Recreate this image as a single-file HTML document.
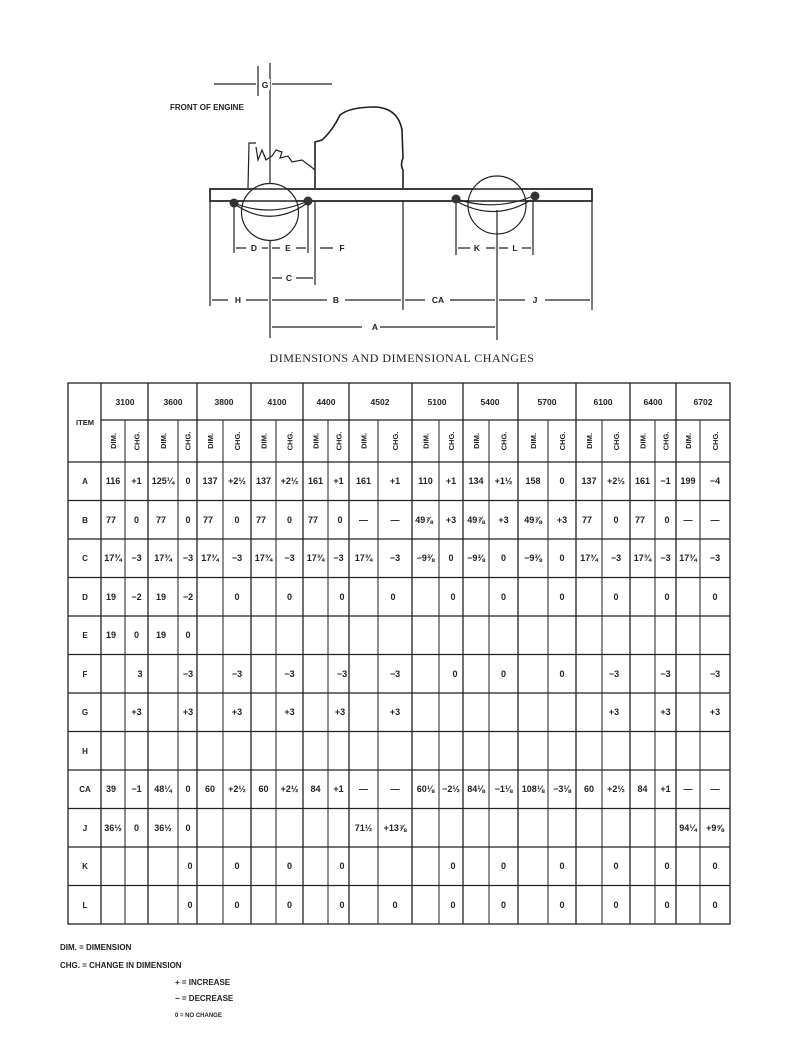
<!DOCTYPE html>
<html><head><meta charset="utf-8"><style>
html,body{margin:0;padding:0;background:#fff;}
svg{display:block;}
text{font-family:"Liberation Sans",sans-serif;font-weight:bold;fill:#222;}
</style></head><body>
<svg width="804" height="1056" viewBox="0 0 804 1056" xmlns="http://www.w3.org/2000/svg">
<g stroke="#222" stroke-width="1.2" fill="none">
 <!-- G -->
 <line x1="214" y1="84" x2="256" y2="84"/><line x1="272" y1="84" x2="332" y2="84"/>
 <line x1="258" y1="66" x2="258" y2="96"/><line x1="270" y1="63" x2="270" y2="338"/>
 <!-- frame -->
 <rect x="210" y="189" width="382" height="12" stroke-width="1.5"/>
 <!-- engine -->
 <path d="M248 188 L249 143 L256 143 M256 147 L258 160 L262 150 L266 160 L272 156 L276 150 L282 152 L280 158 L288 156 L292 162 L302 160 L310 166 L315 170"/>
 <!-- cab -->
 <path d="M315 188 L315 142 L322 140 Q333 130 340 115 Q350 107 375 107 Q398 108 402 130 L403 158 Q400 165 403 170 L403 188" stroke-width="1.6"/>
 <!-- wheels -->
 <circle cx="270" cy="212" r="28.5" fill="#fff"/>
 <circle cx="497" cy="205" r="29" fill="#fff"/>
 <rect x="210" y="189" width="382" height="12" fill="none" stroke-width="1.5"/>
 <path d="M234 203 Q270 218 308 201 M236 205 Q270 228 306 204"/>
 <path d="M456 199 Q495 212 533 196 M458 202 Q495 222 531 200"/>
 <!-- extension lines -->
 <line x1="234" y1="205" x2="234" y2="253"/><line x1="308" y1="204" x2="308" y2="253"/>
 <line x1="315" y1="201" x2="315" y2="285"/>
 <line x1="210" y1="201" x2="210" y2="306"/><line x1="403" y1="201" x2="403" y2="310"/>
 <line x1="497" y1="210" x2="497" y2="340"/><line x1="592" y1="201" x2="592" y2="310"/>
 <line x1="456" y1="201" x2="456" y2="255"/><line x1="533" y1="200" x2="533" y2="255"/>
 <!-- dimension lines -->
 <path d="M236 248 H246 M262 248 H268 M272 248 H280 M296 248 H306 M320 248 H333"/>
 <path d="M272 278 H282 M296 278 H313"/>
 <path d="M212 300 H228 M246 300 H268 M272 300 H327 M345 300 H401 M405 300 H425 M450 300 H495 M499 300 H525 M545 300 H590"/>
 <path d="M272 327 H362 M380 327 H495"/>
 <path d="M458 248 H470 M486 248 H495 M499 248 H508 M522 248 H531"/>
</g>
<g fill="#333">
 <circle cx="234" cy="203" r="4.5"/><circle cx="308" cy="201" r="4.5"/>
 <circle cx="456" cy="199" r="4.5"/><circle cx="535" cy="196" r="4.5"/>
</g>
<g font-size="8.5">
 <rect x="260" y="79" width="10" height="11" fill="#fff"/>
 <text x="265" y="88" text-anchor="middle">G</text>
 <text x="170" y="110" font-size="8">FRONT OF ENGINE</text>
 <text x="254" y="251" text-anchor="middle">D</text><text x="288" y="251" text-anchor="middle">E</text><text x="342" y="251" text-anchor="middle">F</text>
 <text x="289" y="281" text-anchor="middle">C</text>
 <text x="238" y="303" text-anchor="middle">H</text><text x="336" y="303" text-anchor="middle">B</text>
 <text x="438" y="303" text-anchor="middle">CA</text><text x="535" y="303" text-anchor="middle">J</text>
 <text x="375" y="330" text-anchor="middle">A</text>
 <text x="477" y="251" text-anchor="middle">K</text><text x="515" y="251" text-anchor="middle">L</text>
</g>
<text x="402" y="362" text-anchor="middle" style="font-family:'Liberation Serif',serif;font-weight:normal;font-size:12px;letter-spacing:0.5px">DIMENSIONS AND DIMENSIONAL CHANGES</text>

<!-- table grid -->
<g stroke="#222" stroke-width="1.3" fill="none">
 <rect x="68" y="383" width="662" height="541"/>
 <line x1="101" y1="420" x2="730" y2="420"/>
 <line x1="68" y1="462" x2="730" y2="462"/>
 <line x1="68" y1="500.5" x2="730" y2="500.5"/><line x1="68" y1="539" x2="730" y2="539"/>
 <line x1="68" y1="577.5" x2="730" y2="577.5"/><line x1="68" y1="616" x2="730" y2="616"/>
 <line x1="68" y1="654.5" x2="730" y2="654.5"/><line x1="68" y1="693" x2="730" y2="693"/>
 <line x1="68" y1="731.5" x2="730" y2="731.5"/><line x1="68" y1="770" x2="730" y2="770"/>
 <line x1="68" y1="808.5" x2="730" y2="808.5"/><line x1="68" y1="847" x2="730" y2="847"/>
 <line x1="68" y1="885.5" x2="730" y2="885.5"/>
 <path d="M101 383V924 M148 383V924 M197 383V924 M251 383V924 M303 383V924 M349 383V924 M412 383V924 M463 383V924 M518 383V924 M576 383V924 M630 383V924 M676 383V924"/>
 <path d="M125 420V924 M178 420V924 M223 420V924 M276 420V924 M328 420V924 M378 420V924 M439 420V924 M489 420V924 M548 420V924 M602 420V924 M655 420V924 M700 420V924" stroke-width="1"/>
</g>
<g font-size="8.5" text-anchor="middle">
 <text x="85" y="425" font-size="7.5">ITEM</text>
 <text x="125" y="405">3100</text><text x="173" y="405">3600</text><text x="224" y="405">3800</text>
 <text x="277" y="405">4100</text><text x="326" y="405">4400</text><text x="380" y="405">4502</text>
 <text x="437" y="405">5100</text><text x="490" y="405">5400</text><text x="547" y="405">5700</text>
 <text x="603" y="405">6100</text><text x="653" y="405">6400</text><text x="703" y="405">6702</text>
</g>
<g font-size="7.5" text-anchor="middle">
 <text transform="translate(116,441) rotate(-90)">DIM.</text><text transform="translate(139.5,441) rotate(-90)">CHG.</text>
 <text transform="translate(166,441) rotate(-90)">DIM.</text><text transform="translate(190.5,441) rotate(-90)">CHG.</text>
 <text transform="translate(213,441) rotate(-90)">DIM.</text><text transform="translate(240,441) rotate(-90)">CHG.</text>
 <text transform="translate(266.5,441) rotate(-90)">DIM.</text><text transform="translate(292.5,441) rotate(-90)">CHG.</text>
 <text transform="translate(318.5,441) rotate(-90)">DIM.</text><text transform="translate(341.5,441) rotate(-90)">CHG.</text>
 <text transform="translate(366.5,441) rotate(-90)">DIM.</text><text transform="translate(398,441) rotate(-90)">CHG.</text>
 <text transform="translate(428.5,441) rotate(-90)">DIM.</text><text transform="translate(454,441) rotate(-90)">CHG.</text>
 <text transform="translate(479,441) rotate(-90)">DIM.</text><text transform="translate(506.5,441) rotate(-90)">CHG.</text>
 <text transform="translate(536,441) rotate(-90)">DIM.</text><text transform="translate(565,441) rotate(-90)">CHG.</text>
 <text transform="translate(592,441) rotate(-90)">DIM.</text><text transform="translate(619,441) rotate(-90)">CHG.</text>
 <text transform="translate(645.5,441) rotate(-90)">DIM.</text><text transform="translate(668.5,441) rotate(-90)">CHG.</text>
 <text transform="translate(691,441) rotate(-90)">DIM.</text><text transform="translate(718,441) rotate(-90)">CHG.</text>
</g>
<g font-size="8" text-anchor="middle">
 <text x="85" y="484">A</text><text x="85" y="523">B</text><text x="85" y="561">C</text><text x="85" y="600">D</text>
 <text x="85" y="638">E</text><text x="85" y="677">F</text><text x="85" y="715">G</text><text x="85" y="754">H</text>
 <text x="85" y="792">CA</text><text x="85" y="831">J</text><text x="85" y="869">K</text><text x="85" y="908">L</text>
</g>
<g font-size="9" text-anchor="middle">
 <!-- A y=484 -->
 <text x="113" y="484">116</text><text x="136.5" y="484">+1</text><text x="163" y="484">125¼</text><text x="188" y="484">0</text>
 <text x="210" y="484">137</text><text x="237" y="484">+2½</text><text x="263.5" y="484">137</text><text x="289.5" y="484">+2½</text>
 <text x="315.5" y="484">161</text><text x="338.5" y="484">+1</text><text x="363.5" y="484">161</text><text x="395" y="484">+1</text>
 <text x="425.5" y="484">110</text><text x="451" y="484">+1</text><text x="476" y="484">134</text><text x="503.5" y="484">+1½</text>
 <text x="533" y="484">158</text><text x="562" y="484">0</text><text x="589" y="484">137</text><text x="616" y="484">+2½</text>
 <text x="642.5" y="484">161</text><text x="665.5" y="484">−1</text><text x="688" y="484">199</text><text x="715" y="484">−4</text>
 <!-- B y=523 -->
 <text x="111" y="523">77</text><text x="136.5" y="523">0</text><text x="161" y="523">77</text><text x="188" y="523">0</text>
 <text x="208" y="523">77</text><text x="237" y="523">0</text><text x="261" y="523">77</text><text x="289.5" y="523">0</text>
 <text x="313" y="523">77</text><text x="340" y="523">0</text><text x="363.5" y="523">—</text><text x="395" y="523">—</text>
 <text x="424" y="523">49⅞</text><text x="451" y="523">+3</text><text x="476" y="523">49⅞</text><text x="503.5" y="523">+3</text>
 <text x="533" y="523">49⅞</text><text x="562" y="523">+3</text><text x="587" y="523">77</text><text x="616" y="523">0</text>
 <text x="640" y="523">77</text><text x="667" y="523">0</text><text x="688" y="523">—</text><text x="715" y="523">—</text>
 <!-- C y=561 -->
 <text x="113" y="561">17¾</text><text x="136.5" y="561">−3</text><text x="163" y="561">17¾</text><text x="188" y="561">−3</text>
 <text x="210" y="561">17¾</text><text x="237" y="561">−3</text><text x="263.5" y="561">17¾</text><text x="289.5" y="561">−3</text>
 <text x="315.5" y="561">17¾</text><text x="338.5" y="561">−3</text><text x="363.5" y="561">17¾</text><text x="395" y="561">−3</text>
 <text x="425.5" y="561">−9⅜</text><text x="451" y="561">0</text><text x="476" y="561">−9⅜</text><text x="503.5" y="561">0</text>
 <text x="533" y="561">−9⅜</text><text x="562" y="561">0</text><text x="589" y="561">17¾</text><text x="616" y="561">−3</text>
 <text x="642.5" y="561">17¾</text><text x="665.5" y="561">−3</text><text x="688" y="561">17¾</text><text x="715" y="561">−3</text>
 <!-- D y=600 -->
 <text x="111" y="600">19</text><text x="136.5" y="600">−2</text><text x="161" y="600">19</text><text x="188" y="600">−2</text>
 <text x="237" y="600">0</text><text x="289.5" y="600">0</text><text x="342" y="600">0</text><text x="393" y="600">0</text>
 <text x="453" y="600">0</text><text x="503.5" y="600">0</text><text x="562" y="600">0</text><text x="616" y="600">0</text>
 <text x="667" y="600">0</text><text x="715" y="600">0</text>
 <!-- E y=638 -->
 <text x="111" y="638">19</text><text x="136.5" y="638">0</text><text x="161" y="638">19</text><text x="188" y="638">0</text>
 <!-- F y=677 -->
 <text x="140" y="677">3</text><text x="188" y="677">−3</text><text x="237" y="677">−3</text><text x="289.5" y="677">−3</text>
 <text x="342" y="677">−3</text><text x="395" y="677">−3</text><text x="455" y="677">0</text><text x="503.5" y="677">0</text>
 <text x="562" y="677">0</text><text x="614" y="677">−3</text><text x="665.5" y="677">−3</text><text x="715" y="677">−3</text>
 <!-- G y=715 -->
 <text x="136.5" y="715">+3</text><text x="188" y="715">+3</text><text x="237" y="715">+3</text><text x="289.5" y="715">+3</text>
 <text x="340" y="715">+3</text><text x="395" y="715">+3</text><text x="614" y="715">+3</text><text x="665.5" y="715">+3</text><text x="715" y="715">+3</text>
 <!-- CA y=792 -->
 <text x="111" y="792">39</text><text x="136.5" y="792">−1</text><text x="163" y="792">48¼</text><text x="188" y="792">0</text>
 <text x="210" y="792">60</text><text x="237" y="792">+2½</text><text x="263.5" y="792">60</text><text x="289.5" y="792">+2½</text>
 <text x="315.5" y="792">84</text><text x="338.5" y="792">+1</text><text x="363.5" y="792">—</text><text x="395" y="792">—</text>
 <text x="425.5" y="792">60⅛</text><text x="451" y="792">−2½</text><text x="476" y="792">84⅛</text><text x="503.5" y="792">−1⅛</text>
 <text x="533" y="792">108⅛</text><text x="562" y="792">−3⅛</text><text x="589" y="792">60</text><text x="616" y="792">+2½</text>
 <text x="642.5" y="792">84</text><text x="665.5" y="792">+1</text><text x="688" y="792">—</text><text x="715" y="792">—</text>
 <!-- J y=831 -->
 <text x="113" y="831">36½</text><text x="136.5" y="831">0</text><text x="163" y="831">36½</text><text x="188" y="831">0</text>
 <text x="363.5" y="831">71½</text><text x="395" y="831">+13⅞</text><text x="688" y="831">94¼</text><text x="715" y="831">+9⅝</text>
 <!-- K y=869 -->
 <text x="190" y="869">0</text><text x="237" y="869">0</text><text x="289.5" y="869">0</text><text x="342" y="869">0</text>
 <text x="453" y="869">0</text><text x="503.5" y="869">0</text><text x="562" y="869">0</text><text x="616" y="869">0</text>
 <text x="667" y="869">0</text><text x="715" y="869">0</text>
 <!-- L y=908 -->
 <text x="190" y="908">0</text><text x="237" y="908">0</text><text x="289.5" y="908">0</text><text x="342" y="908">0</text>
 <text x="395" y="908">0</text><text x="453" y="908">0</text><text x="503.5" y="908">0</text><text x="562" y="908">0</text>
 <text x="616" y="908">0</text><text x="667" y="908">0</text><text x="715" y="908">0</text>
</g>
<g font-size="8">
 <text x="60" y="950">DIM. = DIMENSION</text>
 <text x="60" y="968">CHG. = CHANGE IN DIMENSION</text>
 <text x="175" y="985">+ = INCREASE</text>
 <text x="175" y="1001">− = DECREASE</text>
 <text x="175" y="1017" fill="#999" font-size="6">0 = NO CHANGE</text>
</g>
</svg>
</body></html>
